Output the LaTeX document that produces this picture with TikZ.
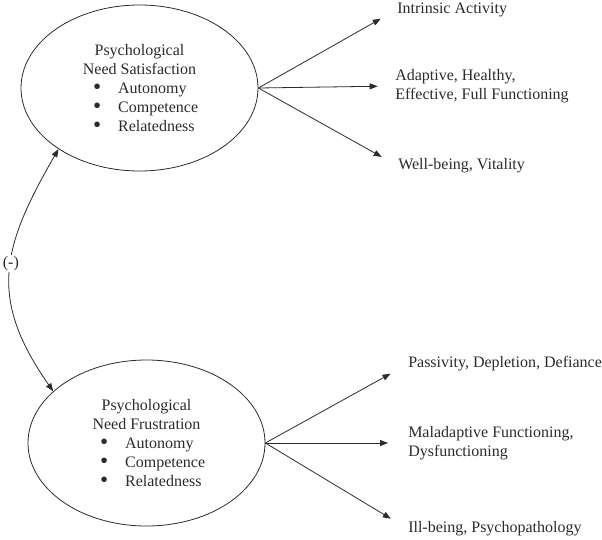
\documentclass[tikz,border=0pt]{standalone}
\usepackage{fontspec}
\setmainfont{Liberation Serif}
\usepackage{tikz}
\usetikzlibrary{positioning,shapes.geometric,arrows.meta}
\definecolor{inkgray}{HTML}{2B2B2B}
\newcommand{\needitem}[1]{\makebox[90pt][l]{\hspace{10.6pt}\makebox[5.4pt][c]{\smash{\raisebox{-0.6pt}{\scalebox{1.45}{\textbullet}}}}\hspace{13pt}#1}}

\begin{document}
\begin{tikzpicture}[
  x=0.75pt,y=-0.75pt,
  font=\fontsize{12}{14.4}\selectfont,
  need/.style={draw,ellipse,minimum width=177.75pt,minimum height=124.5pt,align=center,inner sep=0pt},
  outcome/.style={anchor=west,inner sep=0pt,align=left},
  lead/.style={-{Triangle[length=6pt,width=4.5pt]},line width=0.6pt,inkgray},
]
\useasboundingbox (0,0) rectangle (602,539);
\node[need,line width=0.6pt,inkgray,text=inkgray] (sat) at (139.5,88)
  {Psychological\\Need Satisfaction\\\needitem{Autonomy}\\\needitem{Competence}\\\needitem{Relatedness}};
\node[need,line width=0.6pt,inkgray,text=inkgray] (frus) at (146.5,443)
  {Psychological\\Need Frustration\\\needitem{Autonomy}\\\needitem{Competence}\\\needitem{Relatedness}};
% outcomes of satisfaction
\node[outcome,text=inkgray] (intr) at (397,9.5) {Intrinsic Activity};
\node[outcome,text=inkgray] (adapt) at (395,86) {Adaptive, Healthy,\\Effective, Full Functioning};
\node[outcome,text=inkgray] (well) at (398,166) {Well-being, Vitality};
% outcomes of frustration
\node[outcome,text=inkgray] (pass) at (408,364) {Passivity, Depletion, Defiance};
\node[outcome,text=inkgray] (malad) at (408,443) {Maladaptive Functioning,\\Dysfunctioning};
\node[outcome,text=inkgray] (ill) at (408,529) {Ill-being, Psychopathology};
\draw[lead,shorten >=14pt] (sat.east) -- (intr.west);
\draw[lead,shorten >=13pt] (sat.east) -- (adapt.west);
\draw[lead,shorten >=14pt] (sat.east) -- (well.west);
\draw[lead,shorten >=15pt] (frus.east) -- (pass.west);
\draw[lead,shorten >=15pt] (frus.east) -- (malad.west);
\draw[lead,shorten >=15pt] (frus.east) -- (ill.west);
% negative association
\draw[lead,{Triangle[length=6pt,width=4.5pt]}-{Triangle[length=6pt,width=4.5pt]}]
  (sat.217) to[out=240,in=125,looseness=1.2]
  node[pos=0.46,fill=white,inner sep=1pt,text=inkgray] (neg) {(-)} (frus.151);
\end{tikzpicture}
\end{document}
